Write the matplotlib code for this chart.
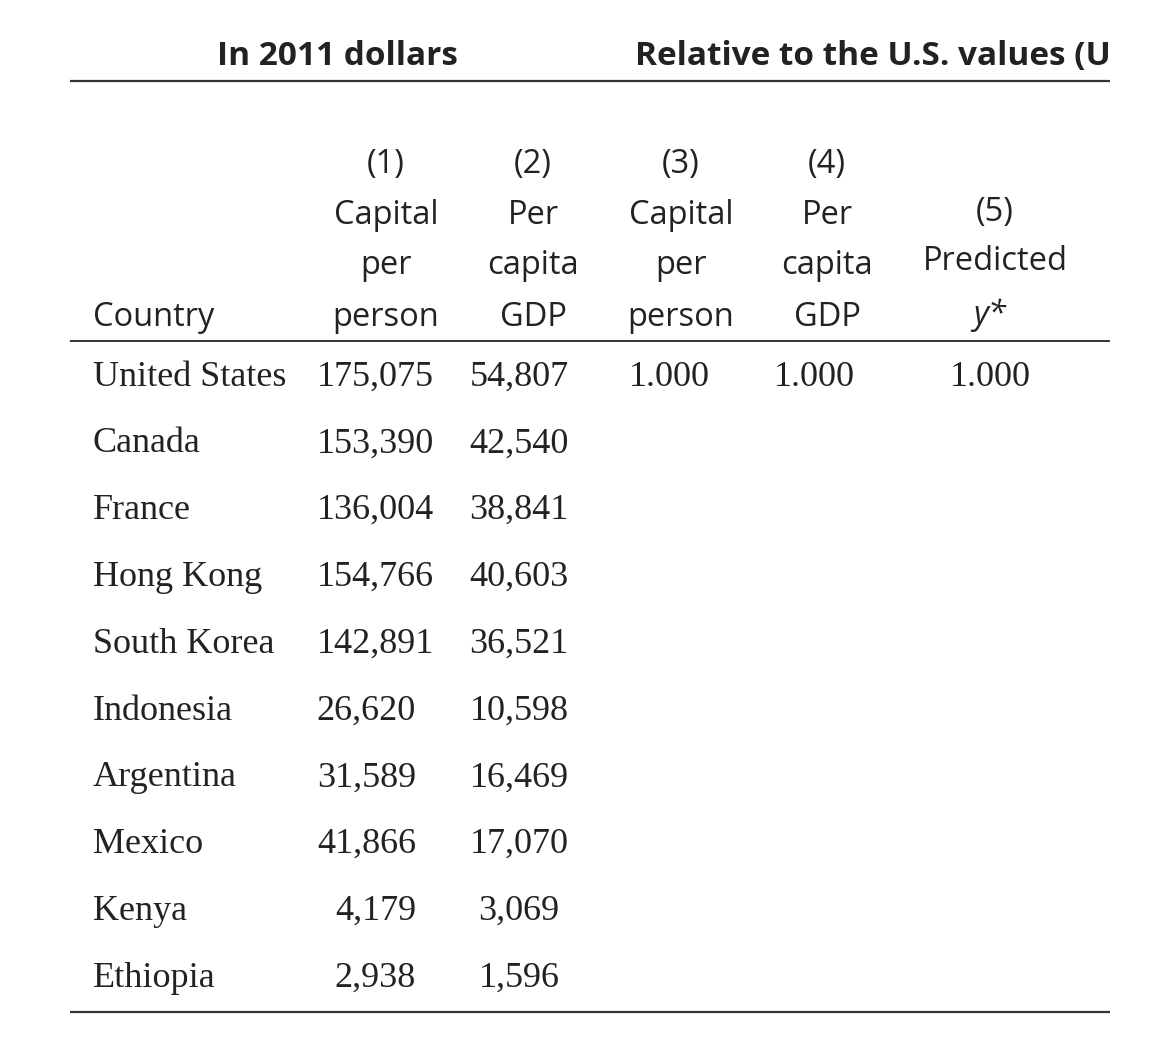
import matplotlib
matplotlib.use("Agg")
import matplotlib.pyplot as plt

countries = ["United States", "Canada", "France", "Hong Kong", "South Korea",
             "Indonesia", "Argentina", "Mexico", "Kenya", "Ethiopia"]
capital_per_person = [175075, 153390, 136004, 154766, 142891,
                      26620, 31589, 41866, 4179, 2938]
gdp_per_capita = [54807, 42540, 38841, 40603, 36521,
                  10598, 16469, 17070, 3069, 1596]
# relative columns: only the U.S. row is filled in
rel_capital = ["1.000"]
rel_gdp = ["1.000"]
predicted_y = ["1.000"]

group_titles = ["In 2011 dollars", "Relative to the U.S. values (U.S. = 1)"]
col_heads = [["(1)", "Capital", "per", "person"],
             ["(2)", "Per", "capita", "GDP"],
             ["(3)", "Capital", "per", "person"],
             ["(4)", "Per", "capita", "GDP"]]

W, H = 1158, 1040
fig = plt.figure(figsize=(W / 100, H / 100), dpi=100)
ax = fig.add_axes([0, 0, 1110 / W, 1])
ax.set_xlim(0, 1110)
ax.set_ylim(H, 0)
ax.axis("off")

ink = "#222222"
sans = "Open Sans"
serif = "Liberation Serif"
head_fs = 23.5
body_fs = 26

# group headings (the right one runs past the table edge, as in the source)
ax.text(337, 65, group_titles[0], ha="center", va="baseline", family=sans,
        fontweight="bold", fontsize=24, color=ink)
ax.text(635, 65, group_titles[1], ha="left", va="baseline", family=sans,
        fontweight="bold", fontsize=24, color=ink, clip_on=True)
ax.plot([70, 1110], [81, 81], color="#333333", lw=1.6, solid_capstyle="butt")

# column headings
col_x = [386, 533, 681, 827]
line_y = [165, 215, 266, 317]
for cx, heads in zip(col_x, col_heads):
    for yy, t in zip(line_y, heads):
        ax.text(cx, yy, t, ha="center", va="center", family=sans,
                fontsize=head_fs, color=ink)
ax.text(93, 317, "Country", ha="left", va="center", family=sans,
        fontsize=head_fs, color=ink)
ax.text(995, 213, "(5)", ha="center", va="center", family=sans, fontsize=head_fs, color=ink)
ax.text(995, 262, "Predicted", ha="center", va="center", family=sans, fontsize=head_fs, color=ink)
ax.text(990, 315, "y*", ha="center", va="center", family=sans, fontsize=head_fs,
        style="italic", color=ink)
ax.plot([70, 1110], [341, 341], color="#333333", lw=1.4, solid_capstyle="butt")

# body rows
row_y0, row_dy = 377, 66.8
for i, name in enumerate(countries):
    y = row_y0 + i * row_dy
    ax.text(93, y, name, ha="left", va="center", family=serif,
            fontsize=body_fs, color=ink)
    v1 = capital_per_person[i]
    if v1 >= 100000:
        ax.text(434, y, f"{v1:,}", ha="right", va="center", family=serif,
                fontsize=body_fs, color=ink)
    else:
        ax.text(416, y, f"{v1:,}", ha="right", va="center", family=serif,
                fontsize=body_fs, color=ink)
    ax.text(519, y, f"{gdp_per_capita[i]:,}", ha="center", va="center",
            family=serif, fontsize=body_fs, color=ink)
    if i < len(rel_capital):
        ax.text(669, y, rel_capital[i], ha="center", va="center", family=serif,
                fontsize=body_fs, color=ink)
        ax.text(814, y, rel_gdp[i], ha="center", va="center", family=serif,
                fontsize=body_fs, color=ink)
        ax.text(990, y, predicted_y[i], ha="center", va="center", family=serif,
                fontsize=body_fs, color=ink)

ax.plot([70, 1110], [1012, 1012], color="#333333", lw=1.6, solid_capstyle="butt")

fig.savefig("out.png", dpi=100, facecolor="white")
